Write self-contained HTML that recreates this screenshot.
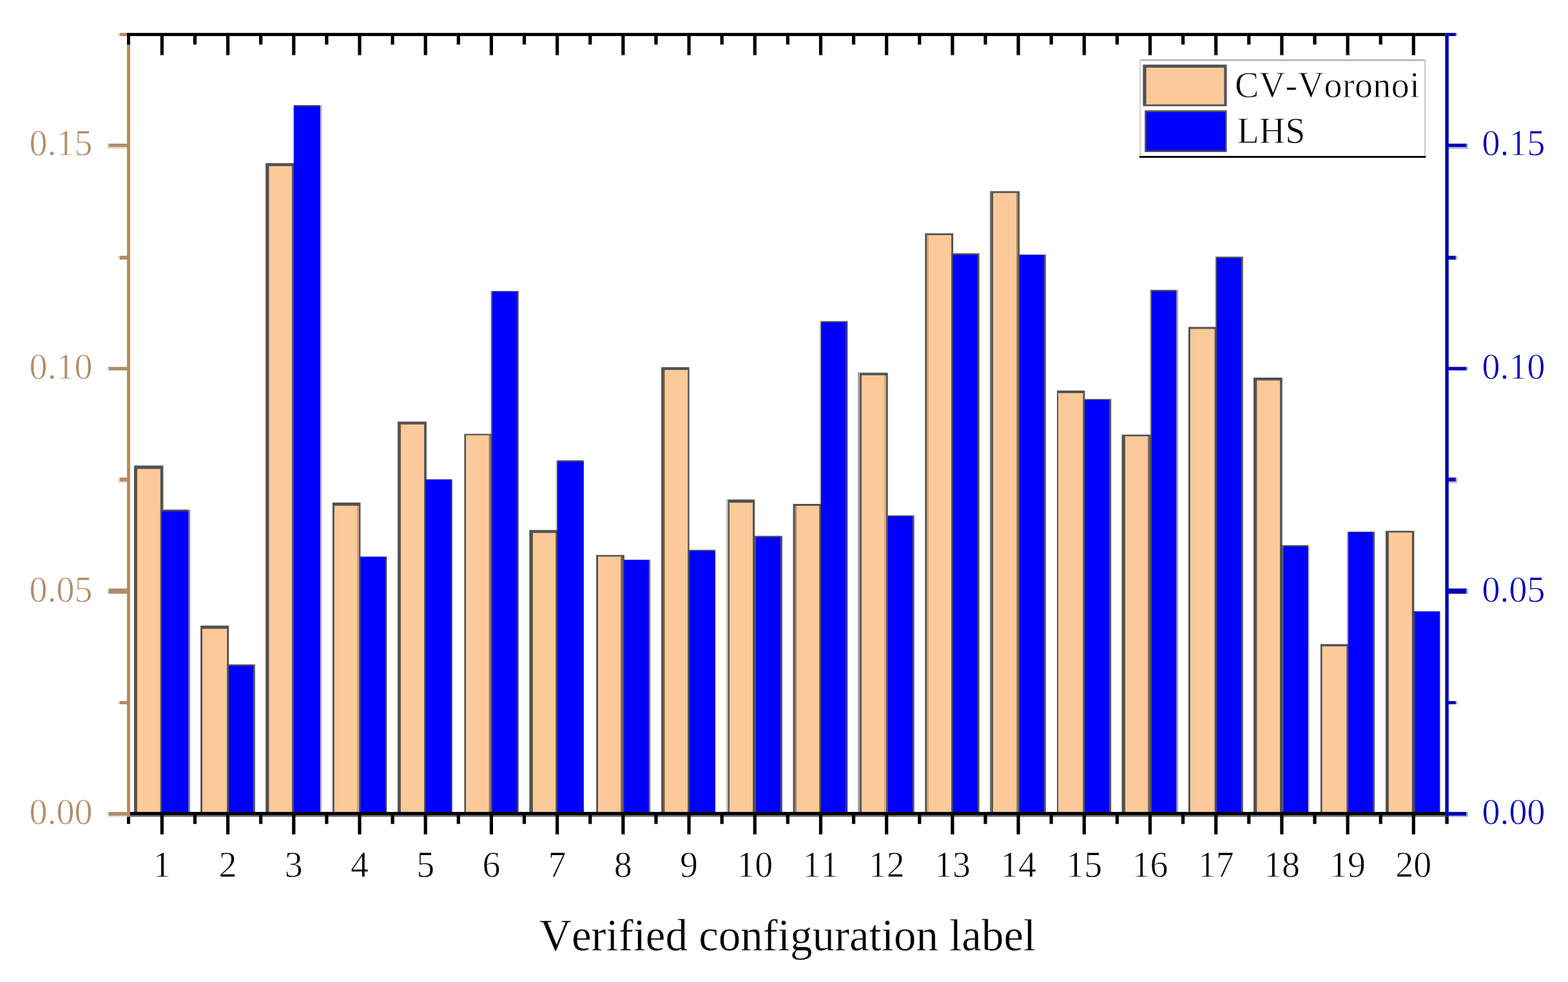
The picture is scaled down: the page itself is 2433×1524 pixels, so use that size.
<!DOCTYPE html>
<html lang="en"><head><meta charset="utf-8"><title>Verified configuration label</title>
<style>
html,body{margin:0;padding:0;background:#fff;}
body{width:2433px;height:1524px;overflow:hidden;}
svg{display:block;}
text{font-family:"Liberation Serif",serif;font-variant-ligatures:none;font-kerning:none;}
.t{font-size:56px;stroke:#fff;stroke-width:0.8px;}
.lg{letter-spacing:0.4px;}
.ttl{font-size:69px;stroke:#fff;stroke-width:0.5px;}
</style></head><body>
<svg width="2433" height="1524" viewBox="0 0 2433 1524">
<rect x="0" y="0" width="2433" height="1524" fill="#ffffff"/>
<g id="bars">
<g>
<rect x="207.95" y="722.50" width="45.45" height="538.50" fill="#525252"/>
<rect x="212.86" y="727.70" width="35.94" height="533.30" fill="#FCC998"/>
<rect x="248.80" y="790.80" width="2.20" height="470.20" fill="#525252"/>
<rect x="292.40" y="790.80" width="2.60" height="470.20" fill="#888888"/>
<rect x="251.00" y="790.80" width="41.40" height="470.20" fill="#525252"/>
<rect x="251.00" y="793.50" width="41.40" height="467.50" fill="#0000FF"/>
</g>
<g>
<rect x="311.10" y="970.90" width="44.00" height="290.10" fill="#525252"/>
<rect x="314.00" y="975.90" width="38.20" height="285.10" fill="#FCC998"/>
<rect x="352.20" y="1031.10" width="2.90" height="229.90" fill="#525252"/>
<rect x="393.10" y="1031.10" width="2.70" height="229.90" fill="#555555"/>
<rect x="355.10" y="1031.10" width="38.00" height="229.90" fill="#525252"/>
<rect x="355.10" y="1033.40" width="38.00" height="227.60" fill="#0000FF"/>
</g>
<g>
<rect x="412.10" y="253.20" width="43.70" height="1007.80" fill="#525252"/>
<rect x="417.40" y="257.90" width="35.80" height="1003.10" fill="#FCC998"/>
<rect x="453.20" y="253.20" width="2.60" height="1007.80" fill="#525252"/>
<rect x="496.90" y="163.00" width="2.70" height="1098.00" fill="#c0c0c0"/>
<rect x="455.80" y="163.00" width="41.10" height="1098.00" fill="#525252"/>
<rect x="455.80" y="165.00" width="41.10" height="1096.00" fill="#0000FF"/>
</g>
<g>
<rect x="515.90" y="779.90" width="43.50" height="481.10" fill="#525252"/>
<rect x="518.80" y="784.90" width="35.20" height="476.10" fill="#FCC998"/>
<rect x="554.00" y="784.90" width="3.10" height="476.10" fill="#d0a078"/>
<rect x="557.10" y="863.70" width="2.20" height="397.30" fill="#525252"/>
<rect x="597.80" y="863.70" width="2.40" height="397.30" fill="#444444"/>
<rect x="559.30" y="863.70" width="38.50" height="397.30" fill="#525252"/>
<rect x="559.30" y="864.30" width="38.50" height="396.70" fill="#0000FF"/>
</g>
<g>
<rect x="617.00" y="654.30" width="44.90" height="606.70" fill="#525252"/>
<rect x="621.90" y="658.70" width="36.20" height="602.30" fill="#FCC998"/>
<rect x="658.10" y="743.80" width="2.30" height="517.20" fill="#525252"/>
<rect x="701.20" y="743.80" width="2.60" height="517.20" fill="#e8e8f0"/>
<rect x="660.40" y="743.80" width="40.80" height="517.20" fill="#525252"/>
<rect x="660.40" y="744.30" width="40.80" height="516.70" fill="#0000FF"/>
</g>
<g>
<rect x="720.40" y="673.30" width="43.50" height="587.70" fill="#525252"/>
<rect x="723.00" y="675.50" width="35.80" height="585.50" fill="#FCC998"/>
<rect x="758.80" y="675.50" width="2.70" height="585.50" fill="#a08060"/>
<rect x="761.50" y="673.30" width="2.20" height="587.70" fill="#525252"/>
<rect x="761.70" y="451.70" width="2.00" height="221.60" fill="#666666"/>
<rect x="801.90" y="451.70" width="2.70" height="809.30" fill="#444444"/>
<rect x="763.70" y="451.70" width="38.20" height="809.30" fill="#525252"/>
<rect x="763.70" y="452.30" width="38.20" height="808.70" fill="#0000FF"/>
</g>
<g>
<rect x="821.30" y="822.50" width="43.50" height="438.50" fill="#525252"/>
<rect x="826.80" y="827.10" width="35.60" height="433.90" fill="#FCC998"/>
<rect x="862.40" y="822.50" width="2.30" height="438.50" fill="#525252"/>
<rect x="862.70" y="714.30" width="2.00" height="108.20" fill="#bbbbbb"/>
<rect x="864.70" y="714.30" width="41.00" height="546.70" fill="#525252"/>
<rect x="864.70" y="716.30" width="41.00" height="544.70" fill="#0000FF"/>
</g>
<g>
<rect x="925.10" y="861.30" width="43.70" height="399.70" fill="#525252"/>
<rect x="928.00" y="863.80" width="35.40" height="397.20" fill="#FCC998"/>
<rect x="963.40" y="863.80" width="2.80" height="397.20" fill="#806850"/>
<rect x="966.20" y="868.60" width="2.20" height="392.40" fill="#525252"/>
<rect x="1006.80" y="868.60" width="2.40" height="392.40" fill="#777777"/>
<rect x="968.40" y="868.60" width="38.40" height="392.40" fill="#525252"/>
<rect x="968.40" y="869.20" width="38.40" height="391.80" fill="#0000FF"/>
</g>
<g>
<rect x="1026.10" y="569.80" width="43.50" height="691.20" fill="#525252"/>
<rect x="1028.70" y="574.20" width="2.70" height="686.80" fill="#6a5a50"/>
<rect x="1031.40" y="574.20" width="35.80" height="686.80" fill="#FCC998"/>
<rect x="1067.20" y="853.30" width="2.40" height="407.70" fill="#525252"/>
<rect x="1069.60" y="853.30" width="40.30" height="407.70" fill="#525252"/>
<rect x="1069.60" y="854.90" width="40.30" height="406.10" fill="#0000FF"/>
</g>
<g>
<rect x="1127.30" y="775.20" width="43.90" height="485.80" fill="#525252"/>
<rect x="1127.30" y="775.20" width="2.30" height="485.80" fill="#cccccc"/>
<rect x="1131.90" y="780.20" width="36.10" height="480.80" fill="#FCC998"/>
<rect x="1168.00" y="831.60" width="5.10" height="429.40" fill="#525252"/>
<rect x="1211.30" y="831.60" width="2.60" height="429.40" fill="#525252"/>
<rect x="1173.10" y="831.60" width="38.20" height="429.40" fill="#525252"/>
<rect x="1173.10" y="833.60" width="38.20" height="427.40" fill="#0000FF"/>
</g>
<g>
<rect x="1230.50" y="782.00" width="43.40" height="479.00" fill="#525252"/>
<rect x="1233.00" y="785.00" width="2.80" height="476.00" fill="#94826e"/>
<rect x="1235.80" y="785.00" width="35.70" height="476.00" fill="#FCC998"/>
<rect x="1271.50" y="782.00" width="2.40" height="479.00" fill="#525252"/>
<rect x="1271.90" y="498.30" width="2.00" height="283.70" fill="#bbbbbb"/>
<rect x="1312.30" y="498.30" width="2.80" height="762.70" fill="#2a2a8a"/>
<rect x="1273.90" y="498.30" width="38.40" height="762.70" fill="#525252"/>
<rect x="1273.90" y="500.30" width="38.40" height="760.70" fill="#0000FF"/>
</g>
<g>
<rect x="1331.40" y="578.40" width="46.30" height="682.60" fill="#525252"/>
<rect x="1331.40" y="578.40" width="2.70" height="682.60" fill="#aaaaaa"/>
<rect x="1336.90" y="582.40" width="35.10" height="678.60" fill="#FCC998"/>
<rect x="1372.00" y="582.40" width="3.10" height="678.60" fill="#d0a882"/>
<rect x="1375.10" y="799.80" width="2.80" height="461.20" fill="#525252"/>
<rect x="1415.90" y="799.80" width="2.70" height="461.20" fill="#525252"/>
<rect x="1377.90" y="799.80" width="38.00" height="461.20" fill="#525252"/>
<rect x="1377.90" y="801.40" width="38.00" height="459.60" fill="#0000FF"/>
</g>
<g>
<rect x="1435.30" y="362.10" width="43.80" height="898.90" fill="#525252"/>
<rect x="1438.00" y="364.90" width="2.30" height="896.10" fill="#c8a280"/>
<rect x="1440.30" y="364.90" width="35.80" height="896.10" fill="#FCC998"/>
<rect x="1476.10" y="393.10" width="2.50" height="867.90" fill="#525252"/>
<rect x="1516.90" y="393.10" width="2.70" height="867.90" fill="#525252"/>
<rect x="1478.60" y="393.10" width="38.30" height="867.90" fill="#525252"/>
<rect x="1478.60" y="395.50" width="38.30" height="865.50" fill="#0000FF"/>
</g>
<g>
<rect x="1536.20" y="296.70" width="45.90" height="964.30" fill="#525252"/>
<rect x="1536.20" y="296.70" width="2.50" height="964.30" fill="#6e6e6e"/>
<rect x="1541.00" y="299.50" width="36.00" height="961.50" fill="#FCC998"/>
<rect x="1577.00" y="299.50" width="2.70" height="961.50" fill="#a08868"/>
<rect x="1579.70" y="395.10" width="2.30" height="865.90" fill="#525252"/>
<rect x="1620.30" y="395.10" width="2.70" height="865.90" fill="#606060"/>
<rect x="1582.00" y="395.10" width="38.30" height="865.90" fill="#525252"/>
<rect x="1582.00" y="395.70" width="38.30" height="865.30" fill="#0000FF"/>
</g>
<g>
<rect x="1640.10" y="606.10" width="43.30" height="654.90" fill="#525252"/>
<rect x="1642.10" y="610.10" width="38.50" height="650.90" fill="#FCC998"/>
<rect x="1680.60" y="619.20" width="2.60" height="641.80" fill="#525252"/>
<rect x="1721.50" y="619.20" width="2.70" height="641.80" fill="#525252"/>
<rect x="1683.20" y="619.20" width="38.30" height="641.80" fill="#525252"/>
<rect x="1683.20" y="620.80" width="38.30" height="640.20" fill="#0000FF"/>
</g>
<g>
<rect x="1740.60" y="674.50" width="46.40" height="586.50" fill="#525252"/>
<rect x="1745.90" y="677.10" width="35.50" height="583.90" fill="#FCC998"/>
<rect x="1781.40" y="677.10" width="2.90" height="583.90" fill="#7a6a5a"/>
<rect x="1784.30" y="674.50" width="2.70" height="586.50" fill="#525252"/>
<rect x="1785.00" y="449.80" width="2.00" height="224.70" fill="#666666"/>
<rect x="1825.20" y="449.80" width="2.60" height="811.20" fill="#999999"/>
<rect x="1787.00" y="449.80" width="38.20" height="811.20" fill="#525252"/>
<rect x="1787.00" y="452.00" width="38.20" height="809.00" fill="#0000FF"/>
</g>
<g>
<rect x="1844.00" y="507.40" width="44.00" height="753.60" fill="#525252"/>
<rect x="1846.90" y="510.40" width="37.90" height="750.60" fill="#FCC998"/>
<rect x="1884.80" y="507.40" width="3.20" height="753.60" fill="#525252"/>
<rect x="1886.00" y="398.30" width="2.00" height="109.10" fill="#666666"/>
<rect x="1926.20" y="398.30" width="2.60" height="862.70" fill="#525252"/>
<rect x="1888.00" y="398.30" width="38.20" height="862.70" fill="#525252"/>
<rect x="1888.00" y="400.50" width="38.20" height="860.50" fill="#0000FF"/>
</g>
<g>
<rect x="1945.00" y="586.00" width="44.70" height="675.00" fill="#525252"/>
<rect x="1950.30" y="590.40" width="35.80" height="670.60" fill="#FCC998"/>
<rect x="1986.10" y="846.00" width="5.30" height="415.00" fill="#525252"/>
<rect x="2029.80" y="846.00" width="2.40" height="415.00" fill="#cccccc"/>
<rect x="1991.40" y="846.00" width="38.40" height="415.00" fill="#525252"/>
<rect x="1991.40" y="848.20" width="38.40" height="412.80" fill="#0000FF"/>
</g>
<g>
<rect x="2048.90" y="999.60" width="43.30" height="261.40" fill="#525252"/>
<rect x="2051.60" y="1003.10" width="38.10" height="257.90" fill="#FCC998"/>
<rect x="2089.70" y="999.60" width="2.50" height="261.40" fill="#525252"/>
<rect x="2090.20" y="825.10" width="2.00" height="174.50" fill="#999999"/>
<rect x="2130.50" y="825.10" width="2.60" height="435.90" fill="#525252"/>
<rect x="2092.20" y="825.10" width="38.30" height="435.90" fill="#525252"/>
<rect x="2092.20" y="826.10" width="38.30" height="434.90" fill="#0000FF"/>
</g>
<g>
<rect x="2150.00" y="823.80" width="44.40" height="437.20" fill="#525252"/>
<rect x="2154.90" y="826.40" width="36.00" height="434.60" fill="#FCC998"/>
<rect x="2190.90" y="948.60" width="5.00" height="312.40" fill="#525252"/>
<rect x="2193.20" y="948.60" width="2.70" height="312.40" fill="#3a3a80"/>
<rect x="2234.20" y="948.60" width="2.70" height="312.40" fill="#f0f0f0"/>
<rect x="2195.90" y="948.60" width="38.30" height="312.40" fill="#525252"/>
<rect x="2195.90" y="949.10" width="38.30" height="311.90" fill="#0000FF"/>
</g>
</g>
<rect x="202.00" y="1265.00" width="2040.40" height="2.70" fill="#6e6e6e"/>
<g id="left-axis">
<rect x="197.00" y="51.00" width="5.00" height="1216.70" fill="#B18C68"/>
<rect x="168.60" y="1260.10" width="28.90" height="5.70" fill="#B18C68"/>
<rect x="166.40" y="1260.10" width="2.20" height="5.70" fill="#B18C68" opacity="0.3"/>
<rect x="166.40" y="1265.80" width="31.10" height="2.10" fill="#B18C68" opacity="0.3"/>
<rect x="185.90" y="1088.00" width="11.60" height="5.00" fill="#B18C68"/>
<rect x="183.10" y="1088.00" width="2.80" height="5.00" fill="#B18C68" opacity="0.3"/>
<rect x="168.60" y="913.30" width="28.90" height="8.20" fill="#B18C68"/>
<rect x="166.40" y="913.30" width="2.20" height="8.20" fill="#B18C68" opacity="0.3"/>
<rect x="185.90" y="741.10" width="11.60" height="5.90" fill="#B18C68"/>
<rect x="183.10" y="741.10" width="2.80" height="5.90" fill="#B18C68" opacity="0.3"/>
<rect x="183.10" y="747.00" width="14.40" height="2.60" fill="#B18C68" opacity="0.3"/>
<rect x="168.60" y="569.40" width="28.90" height="5.40" fill="#B18C68"/>
<rect x="166.40" y="569.40" width="2.20" height="5.40" fill="#B18C68" opacity="0.3"/>
<rect x="185.90" y="396.90" width="11.60" height="6.00" fill="#B18C68"/>
<rect x="183.10" y="396.90" width="2.80" height="6.00" fill="#B18C68" opacity="0.3"/>
<rect x="168.60" y="222.90" width="28.90" height="5.20" fill="#B18C68"/>
<rect x="166.40" y="222.90" width="2.20" height="5.20" fill="#B18C68" opacity="0.3"/>
<rect x="166.40" y="228.10" width="31.10" height="2.90" fill="#B18C68" opacity="0.3"/>
<rect x="185.90" y="51.00" width="11.60" height="5.00" fill="#B18C68"/>
<rect x="183.10" y="51.00" width="2.80" height="5.00" fill="#B18C68" opacity="0.3"/>
</g>
<g id="right-axis">
<rect x="2242.40" y="51.00" width="5.40" height="1216.70" fill="#0000B4"/>
<rect x="2247.30" y="1260.10" width="28.10" height="5.70" fill="#0000B4"/>
<rect x="2275.40" y="1260.10" width="2.50" height="5.70" fill="#0000B4" opacity="0.3"/>
<rect x="2247.30" y="1265.80" width="30.60" height="2.10" fill="#0000B4" opacity="0.3"/>
<rect x="2247.30" y="1088.00" width="11.50" height="5.00" fill="#0000B4"/>
<rect x="2258.80" y="1088.00" width="2.60" height="5.00" fill="#0000B4" opacity="0.3"/>
<rect x="2247.30" y="913.30" width="28.10" height="8.20" fill="#0000B4"/>
<rect x="2275.40" y="913.30" width="2.50" height="8.20" fill="#0000B4" opacity="0.3"/>
<rect x="2247.30" y="741.10" width="11.50" height="5.90" fill="#0000B4"/>
<rect x="2258.80" y="741.10" width="2.60" height="5.90" fill="#0000B4" opacity="0.3"/>
<rect x="2247.30" y="747.00" width="14.10" height="2.60" fill="#0000B4" opacity="0.3"/>
<rect x="2247.30" y="569.40" width="28.10" height="5.40" fill="#0000B4"/>
<rect x="2275.40" y="569.40" width="2.50" height="5.40" fill="#0000B4" opacity="0.3"/>
<rect x="2247.30" y="396.90" width="11.50" height="6.00" fill="#0000B4"/>
<rect x="2258.80" y="396.90" width="2.60" height="6.00" fill="#0000B4" opacity="0.3"/>
<rect x="2247.30" y="222.90" width="28.10" height="5.20" fill="#0000B4"/>
<rect x="2275.40" y="222.90" width="2.50" height="5.20" fill="#0000B4" opacity="0.3"/>
<rect x="2247.30" y="228.10" width="30.60" height="2.90" fill="#0000B4" opacity="0.3"/>
<rect x="2247.30" y="51.00" width="11.50" height="5.00" fill="#0000B4"/>
<rect x="2258.80" y="51.00" width="2.60" height="5.00" fill="#0000B4" opacity="0.3"/>
</g>
<g id="x-axes" fill="#000">
<rect x="197.00" y="51.00" width="2045.40" height="5.00" fill="#000"/>
<rect x="202.00" y="1260.00" width="2040.40" height="5.00" fill="#000"/>
<rect x="197.00" y="55.50" width="5.00" height="13.30" fill="#000"/>
<rect x="197.00" y="68.80" width="5.00" height="1.00" fill="#000" opacity="0.45"/>
<rect x="197.00" y="1267.70" width="5.00" height="11.00" fill="#000"/>
<rect x="248.75" y="55.50" width="5.20" height="29.70" fill="#000"/>
<rect x="248.75" y="85.20" width="5.20" height="1.00" fill="#000" opacity="0.45"/>
<rect x="248.75" y="1264.50" width="5.20" height="30.40" fill="#000"/>
<rect x="299.85" y="55.50" width="5.20" height="13.30" fill="#000"/>
<rect x="299.85" y="68.80" width="5.20" height="1.00" fill="#000" opacity="0.45"/>
<rect x="299.85" y="1264.50" width="5.20" height="14.20" fill="#000"/>
<rect x="350.96" y="55.50" width="5.20" height="29.70" fill="#000"/>
<rect x="350.96" y="85.20" width="5.20" height="1.00" fill="#000" opacity="0.45"/>
<rect x="350.96" y="1264.50" width="5.20" height="30.40" fill="#000"/>
<rect x="402.06" y="55.50" width="5.20" height="13.30" fill="#000"/>
<rect x="402.06" y="68.80" width="5.20" height="1.00" fill="#000" opacity="0.45"/>
<rect x="402.06" y="1264.50" width="5.20" height="14.20" fill="#000"/>
<rect x="453.17" y="55.50" width="5.20" height="29.70" fill="#000"/>
<rect x="453.17" y="85.20" width="5.20" height="1.00" fill="#000" opacity="0.45"/>
<rect x="453.17" y="1264.50" width="5.20" height="30.40" fill="#000"/>
<rect x="504.27" y="55.50" width="5.20" height="13.30" fill="#000"/>
<rect x="504.27" y="68.80" width="5.20" height="1.00" fill="#000" opacity="0.45"/>
<rect x="504.27" y="1264.50" width="5.20" height="14.20" fill="#000"/>
<rect x="555.38" y="55.50" width="5.20" height="29.70" fill="#000"/>
<rect x="555.38" y="85.20" width="5.20" height="1.00" fill="#000" opacity="0.45"/>
<rect x="555.38" y="1264.50" width="5.20" height="30.40" fill="#000"/>
<rect x="606.48" y="55.50" width="5.20" height="13.30" fill="#000"/>
<rect x="606.48" y="68.80" width="5.20" height="1.00" fill="#000" opacity="0.45"/>
<rect x="606.48" y="1264.50" width="5.20" height="14.20" fill="#000"/>
<rect x="657.59" y="55.50" width="5.20" height="29.70" fill="#000"/>
<rect x="657.59" y="85.20" width="5.20" height="1.00" fill="#000" opacity="0.45"/>
<rect x="657.59" y="1264.50" width="5.20" height="30.40" fill="#000"/>
<rect x="708.69" y="55.50" width="5.20" height="13.30" fill="#000"/>
<rect x="708.69" y="68.80" width="5.20" height="1.00" fill="#000" opacity="0.45"/>
<rect x="708.69" y="1264.50" width="5.20" height="14.20" fill="#000"/>
<rect x="759.80" y="55.50" width="5.20" height="29.70" fill="#000"/>
<rect x="759.80" y="85.20" width="5.20" height="1.00" fill="#000" opacity="0.45"/>
<rect x="759.80" y="1264.50" width="5.20" height="30.40" fill="#000"/>
<rect x="810.90" y="55.50" width="5.20" height="13.30" fill="#000"/>
<rect x="810.90" y="68.80" width="5.20" height="1.00" fill="#000" opacity="0.45"/>
<rect x="810.90" y="1264.50" width="5.20" height="14.20" fill="#000"/>
<rect x="862.01" y="55.50" width="5.20" height="29.70" fill="#000"/>
<rect x="862.01" y="85.20" width="5.20" height="1.00" fill="#000" opacity="0.45"/>
<rect x="862.01" y="1264.50" width="5.20" height="30.40" fill="#000"/>
<rect x="913.12" y="55.50" width="5.20" height="13.30" fill="#000"/>
<rect x="913.12" y="68.80" width="5.20" height="1.00" fill="#000" opacity="0.45"/>
<rect x="913.12" y="1264.50" width="5.20" height="14.20" fill="#000"/>
<rect x="964.22" y="55.50" width="5.20" height="29.70" fill="#000"/>
<rect x="964.22" y="85.20" width="5.20" height="1.00" fill="#000" opacity="0.45"/>
<rect x="964.22" y="1264.50" width="5.20" height="30.40" fill="#000"/>
<rect x="1015.32" y="55.50" width="5.20" height="13.30" fill="#000"/>
<rect x="1015.32" y="68.80" width="5.20" height="1.00" fill="#000" opacity="0.45"/>
<rect x="1015.32" y="1264.50" width="5.20" height="14.20" fill="#000"/>
<rect x="1066.43" y="55.50" width="5.20" height="29.70" fill="#000"/>
<rect x="1066.43" y="85.20" width="5.20" height="1.00" fill="#000" opacity="0.45"/>
<rect x="1066.43" y="1264.50" width="5.20" height="30.40" fill="#000"/>
<rect x="1117.54" y="55.50" width="5.20" height="13.30" fill="#000"/>
<rect x="1117.54" y="68.80" width="5.20" height="1.00" fill="#000" opacity="0.45"/>
<rect x="1117.54" y="1264.50" width="5.20" height="14.20" fill="#000"/>
<rect x="1168.64" y="55.50" width="5.20" height="29.70" fill="#000"/>
<rect x="1168.64" y="85.20" width="5.20" height="1.00" fill="#000" opacity="0.45"/>
<rect x="1168.64" y="1264.50" width="5.20" height="30.40" fill="#000"/>
<rect x="1219.74" y="55.50" width="5.20" height="13.30" fill="#000"/>
<rect x="1219.74" y="68.80" width="5.20" height="1.00" fill="#000" opacity="0.45"/>
<rect x="1219.74" y="1264.50" width="5.20" height="14.20" fill="#000"/>
<rect x="1270.85" y="55.50" width="5.20" height="29.70" fill="#000"/>
<rect x="1270.85" y="85.20" width="5.20" height="1.00" fill="#000" opacity="0.45"/>
<rect x="1270.85" y="1264.50" width="5.20" height="30.40" fill="#000"/>
<rect x="1321.95" y="55.50" width="5.20" height="13.30" fill="#000"/>
<rect x="1321.95" y="68.80" width="5.20" height="1.00" fill="#000" opacity="0.45"/>
<rect x="1321.95" y="1264.50" width="5.20" height="14.20" fill="#000"/>
<rect x="1373.06" y="55.50" width="5.20" height="29.70" fill="#000"/>
<rect x="1373.06" y="85.20" width="5.20" height="1.00" fill="#000" opacity="0.45"/>
<rect x="1373.06" y="1264.50" width="5.20" height="30.40" fill="#000"/>
<rect x="1424.16" y="55.50" width="5.20" height="13.30" fill="#000"/>
<rect x="1424.16" y="68.80" width="5.20" height="1.00" fill="#000" opacity="0.45"/>
<rect x="1424.16" y="1264.50" width="5.20" height="14.20" fill="#000"/>
<rect x="1475.27" y="55.50" width="5.20" height="29.70" fill="#000"/>
<rect x="1475.27" y="85.20" width="5.20" height="1.00" fill="#000" opacity="0.45"/>
<rect x="1475.27" y="1264.50" width="5.20" height="30.40" fill="#000"/>
<rect x="1526.38" y="55.50" width="5.20" height="13.30" fill="#000"/>
<rect x="1526.38" y="68.80" width="5.20" height="1.00" fill="#000" opacity="0.45"/>
<rect x="1526.38" y="1264.50" width="5.20" height="14.20" fill="#000"/>
<rect x="1577.48" y="55.50" width="5.20" height="29.70" fill="#000"/>
<rect x="1577.48" y="85.20" width="5.20" height="1.00" fill="#000" opacity="0.45"/>
<rect x="1577.48" y="1264.50" width="5.20" height="30.40" fill="#000"/>
<rect x="1628.58" y="55.50" width="5.20" height="13.30" fill="#000"/>
<rect x="1628.58" y="68.80" width="5.20" height="1.00" fill="#000" opacity="0.45"/>
<rect x="1628.58" y="1264.50" width="5.20" height="14.20" fill="#000"/>
<rect x="1679.69" y="55.50" width="5.20" height="29.70" fill="#000"/>
<rect x="1679.69" y="85.20" width="5.20" height="1.00" fill="#000" opacity="0.45"/>
<rect x="1679.69" y="1264.50" width="5.20" height="30.40" fill="#000"/>
<rect x="1730.79" y="55.50" width="5.20" height="13.30" fill="#000"/>
<rect x="1730.79" y="68.80" width="5.20" height="1.00" fill="#000" opacity="0.45"/>
<rect x="1730.79" y="1264.50" width="5.20" height="14.20" fill="#000"/>
<rect x="1781.90" y="55.50" width="5.20" height="29.70" fill="#000"/>
<rect x="1781.90" y="85.20" width="5.20" height="1.00" fill="#000" opacity="0.45"/>
<rect x="1781.90" y="1264.50" width="5.20" height="30.40" fill="#000"/>
<rect x="1833.00" y="55.50" width="5.20" height="13.30" fill="#000"/>
<rect x="1833.00" y="68.80" width="5.20" height="1.00" fill="#000" opacity="0.45"/>
<rect x="1833.00" y="1264.50" width="5.20" height="14.20" fill="#000"/>
<rect x="1884.11" y="55.50" width="5.20" height="29.70" fill="#000"/>
<rect x="1884.11" y="85.20" width="5.20" height="1.00" fill="#000" opacity="0.45"/>
<rect x="1884.11" y="1264.50" width="5.20" height="30.40" fill="#000"/>
<rect x="1935.21" y="55.50" width="5.20" height="13.30" fill="#000"/>
<rect x="1935.21" y="68.80" width="5.20" height="1.00" fill="#000" opacity="0.45"/>
<rect x="1935.21" y="1264.50" width="5.20" height="14.20" fill="#000"/>
<rect x="1986.32" y="55.50" width="5.20" height="29.70" fill="#000"/>
<rect x="1986.32" y="85.20" width="5.20" height="1.00" fill="#000" opacity="0.45"/>
<rect x="1986.32" y="1264.50" width="5.20" height="30.40" fill="#000"/>
<rect x="2037.42" y="55.50" width="5.20" height="13.30" fill="#000"/>
<rect x="2037.42" y="68.80" width="5.20" height="1.00" fill="#000" opacity="0.45"/>
<rect x="2037.42" y="1264.50" width="5.20" height="14.20" fill="#000"/>
<rect x="2088.53" y="55.50" width="5.20" height="29.70" fill="#000"/>
<rect x="2088.53" y="85.20" width="5.20" height="1.00" fill="#000" opacity="0.45"/>
<rect x="2088.53" y="1264.50" width="5.20" height="30.40" fill="#000"/>
<rect x="2139.64" y="55.50" width="5.20" height="13.30" fill="#000"/>
<rect x="2139.64" y="68.80" width="5.20" height="1.00" fill="#000" opacity="0.45"/>
<rect x="2139.64" y="1264.50" width="5.20" height="14.20" fill="#000"/>
<rect x="2190.74" y="55.50" width="5.20" height="29.70" fill="#000"/>
<rect x="2190.74" y="85.20" width="5.20" height="1.00" fill="#000" opacity="0.45"/>
<rect x="2190.74" y="1264.50" width="5.20" height="30.40" fill="#000"/>
<rect x="2242.40" y="1267.70" width="5.40" height="11.00" fill="#000"/>
</g>
<g id="ylabels-left" class="t" fill="#B18C68" text-anchor="end">
<text x="143.6" y="1279.3">0.00</text>
<text x="143.6" y="934.1">0.05</text>
<text x="143.6" y="587.6">0.10</text>
<text x="143.6" y="241.0">0.15</text>
</g>
<g id="ylabels-right" class="t" fill="#0000B4" text-anchor="start">
<text x="2299.6" y="1279.3">0.00</text>
<text x="2299.6" y="934.1">0.05</text>
<text x="2299.6" y="587.6">0.10</text>
<text x="2299.6" y="241.0">0.15</text>
</g>
<g id="xlabels" class="t" fill="#000" text-anchor="middle">
<text x="251.3" y="1360.5">1</text>
<text x="353.6" y="1360.5">2</text>
<text x="455.8" y="1360.5">3</text>
<text x="558.0" y="1360.5">4</text>
<text x="660.2" y="1360.5">5</text>
<text x="762.4" y="1360.5">6</text>
<text x="864.6" y="1360.5">7</text>
<text x="966.8" y="1360.5">8</text>
<text x="1069.0" y="1360.5">9</text>
<text x="1171.2" y="1360.5">10</text>
<text x="1273.4" y="1360.5">11</text>
<text x="1375.7" y="1360.5">12</text>
<text x="1477.9" y="1360.5">13</text>
<text x="1580.1" y="1360.5">14</text>
<text x="1682.3" y="1360.5">15</text>
<text x="1784.5" y="1360.5">16</text>
<text x="1886.7" y="1360.5">17</text>
<text x="1988.9" y="1360.5">18</text>
<text x="2091.1" y="1360.5">19</text>
<text x="2193.3" y="1360.5">20</text>
</g>
<text class="ttl" x="1222.2" y="1474.5" fill="#000" text-anchor="middle">Verified configuration label</text>
<g id="legend">
<rect x="1768.00" y="92.00" width="444.40" height="152.80" fill="#ffffff"/>
<rect x="1768.00" y="92.00" width="444.40" height="2.60" fill="#b2b2b2"/>
<rect x="1768.00" y="92.00" width="2.60" height="152.80" fill="#d8d8d8"/>
<rect x="2209.80" y="92.00" width="2.60" height="152.80" fill="#cfcfcf"/>
<rect x="1768.00" y="242.00" width="444.40" height="2.90" fill="#000000"/>
<rect x="1773.40" y="100.30" width="130.20" height="64.50" fill="#525252"/>
<rect x="1778.60" y="105.00" width="120.80" height="57.10" fill="#FCC998"/>
<rect x="1776.20" y="171.20" width="127.40" height="64.80" fill="#525252"/>
<rect x="1778.60" y="174.00" width="122.60" height="59.60" fill="#0000FF"/>
<text class="t lg" x="1916.0" y="151.4" fill="#000">CV-Voronoi</text>
<text class="t" x="1919.6" y="222.3" fill="#000">LHS</text>
</g>
</svg>
</body></html>
